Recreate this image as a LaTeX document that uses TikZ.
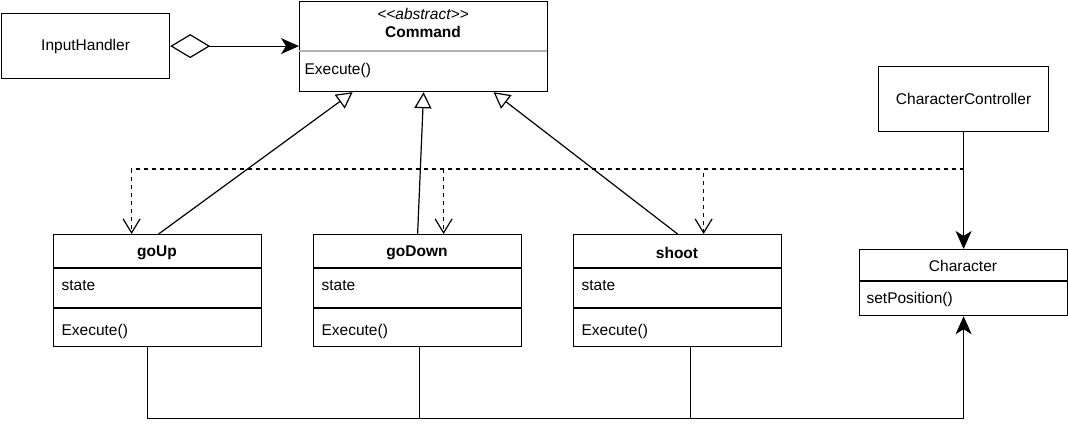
\documentclass[tikz,border=0pt]{standalone}
\usepackage{fontspec}
\setmainfont{Liberation Sans}
\usetikzlibrary{arrows.meta}

\begin{document}
\begin{tikzpicture}[x=1pt,y=-1pt,line width=1.2pt,
    font=\fontsize{15.5}{18}\selectfont,
    every node/.style={inner sep=0pt},
    box/.style 2 args={draw,anchor=north west,minimum width=#1,minimum height=#2},
    gen/.style={-{Triangle[open,length=16pt,width=17pt,fill=white]}},
    dep/.style={dash pattern=on 4pt off 4pt,-{Straight Barb[length=14pt,width=17pt]}},
    assoc/.style={-{Stealth[length=18pt,width=16pt,inset=5pt]}},
    agg/.style={{Diamond[open,length=40pt,width=24pt]}-{Stealth[length=18pt,width=16pt,inset=5pt]}}]

    \useasboundingbox (0,0) rectangle (1068,437);

    % Top Row
    % -------
    \node[box={168}{65}] (ih) at (1,13) {};
    \node[] at (ih.center) {InputHandler};

    \node[box={248}{90}] (cmd) at (299,1) {};
    \node[] at (423,14) {\itshape <\kern0pt<abstract>\kern0pt>};
    \node[] at (423,32) {\bfseries Command};
    \draw[gray!60] (299,51) -- ++(248,0);
    \node[anchor=west] at (304,70) {Execute()};

    \node[box={170}{65}] (ctrl) at (878,66) {};
    \node[] at (ctrl.center) {CharacterController};

    % Commands
    % --------
    \node[box={208}{112}] (up) at (53,234) {};
    \node[] at (157,253) {\bfseries goUp};
    \draw (53,268) -- ++(208,0);
    \node[anchor=west] at (61,286) {state};
    \draw (53,308) -- ++(208,0);
    \node[anchor=west] at (61,331) {Execute()};

    \node[box={208}{112}] (down) at (313,234) {};
    \node[] at (417,253) {\bfseries goDown};
    \draw (313,268) -- ++(208,0);
    \node[anchor=west] at (321,286) {state};
    \draw (313,308) -- ++(208,0);
    \node[anchor=west] at (321,331) {Execute()};

    \node[box={208}{112}] (shoot) at (573,234) {};
    \node[] at (677,253) {\bfseries shoot};
    \draw (573,268) -- ++(208,0);
    \node[anchor=west] at (581,286) {state};
    \draw (573,308) -- ++(208,0);
    \node[anchor=west] at (581,331) {Execute()};

    % Receiver
    % --------
    \node[box={208}{66}] (char) at (859,249) {};
    \node[] at (963,266) {Character};
    \draw (859,281) -- ++(208,0);
    \node[anchor=west] at (866,299) {setPosition()};

    % Draw Paths
    % ----------
    \draw[agg] (ih.east) -- (cmd.west |- ih.east);
    \draw[gen] ([xshift=1pt]up.north) -- ([xshift=-71pt]cmd.south);
    \draw[gen] (down.north) -- (cmd.south);
    \draw[gen] (shoot.north) -- ([xshift=70pt]cmd.south);

    \draw[assoc] (ctrl.south) -- (char.north);
    \coordinate (split) at (ctrl.south |- 0,169);
    \draw[dep] (split) -| ([xshift=-26pt]up.north);
    \draw[dep] (split) -| ([xshift=26pt]down.north);
    \draw[dep] (split) -| ([xshift=26pt]shoot.north);

    \draw[assoc] ([xshift=-10pt]up.south) -- ++(0,71) -| (char.south);
    \draw ([xshift=2pt]down.south) -- ++(0,71);
    \draw ([xshift=13pt]shoot.south) -- ++(0,71);

\end{tikzpicture}
\end{document}
